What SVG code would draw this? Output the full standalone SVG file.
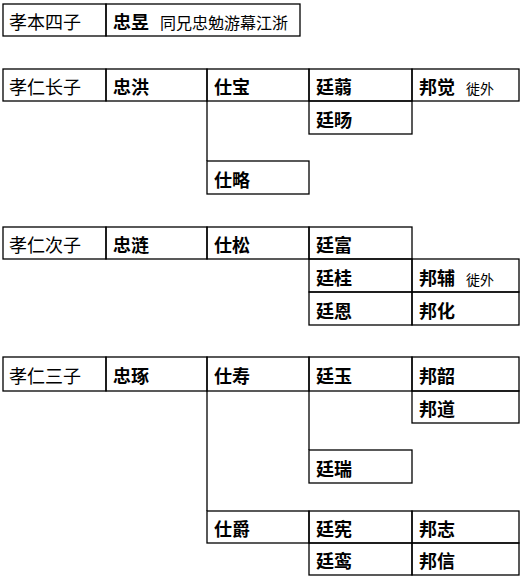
<svg xmlns="http://www.w3.org/2000/svg" width="522" height="580" viewBox="0 0 522 580">
<style>
rect{fill:none;stroke:#000;stroke-width:1.3}
line,path{fill:none;stroke:#000;stroke-width:1.3}
text{font-family:"Noto Sans CJK SC","Noto Sans CJK TC",sans-serif;font-size:18px;fill:#000}
.n{font-weight:700}
.r{font-weight:400}
.s{font-size:16px;font-weight:400}
.x{font-size:14px;font-weight:400}
</style>
<rect width="522" height="580" fill="#fff" stroke="none" style="fill:#fff;stroke:none"/>

<g id="connectors">
<line x1="207" y1="101" x2="207" y2="161"/>
<line x1="309" y1="391" x2="309" y2="450"/>
<line x1="207" y1="391" x2="207" y2="511"/>
</g>

<!-- Group 1 -->
<g id="n-xiaoben4"><rect x="3" y="4" width="103" height="32"/><text x="9" y="29" class="r">孝本四子</text></g>
<g id="n-zhongyu"><rect x="106" y="4" width="194" height="32"/><text x="113" y="29" class="n">忠昱</text><text x="160" y="29" class="s">同兄忠勉游幕江浙</text></g>

<!-- Group 2 -->
<g id="n-xiaoren1"><rect x="3" y="69" width="103" height="32"/><text x="9" y="94" class="r">孝仁长子</text></g>
<g id="n-zhonghong"><rect x="106" y="69" width="101" height="32"/><text x="113" y="94" class="n">忠洪</text></g>
<g id="n-shibao"><rect x="207" y="69" width="102" height="32"/><text x="214" y="94" class="n">仕宝</text></g>
<g id="n-tingruo"><rect x="309" y="69" width="103" height="32"/><text x="316" y="94" class="n">廷蒻</text></g>
<g id="n-bangjue"><rect x="412" y="69" width="107" height="32"/><text x="419" y="94" class="n">邦觉</text><text x="466" y="94" class="x">徙外</text></g>
<g id="n-tingyang"><rect x="309" y="101" width="103" height="33"/><text x="316" y="127" class="n">廷旸</text></g>
<g id="n-shilue"><rect x="207" y="161" width="102" height="33"/><text x="214" y="187" class="n">仕略</text></g>

<!-- Group 3 -->
<g id="n-xiaoren2"><rect x="3" y="227" width="103" height="32"/><text x="9" y="252" class="r">孝仁次子</text></g>
<g id="n-zhonglian"><rect x="106" y="227" width="101" height="32"/><text x="113" y="252" class="n">忠涟</text></g>
<g id="n-shisong"><rect x="207" y="227" width="102" height="32"/><text x="214" y="252" class="n">仕松</text></g>
<g id="n-tingfu"><rect x="309" y="227" width="103" height="32"/><text x="316" y="252" class="n">廷富</text></g>
<g id="n-tinggui"><rect x="309" y="259" width="103" height="33"/><text x="316" y="285" class="n">廷桂</text></g>
<g id="n-bangfu"><rect x="412" y="259" width="107" height="33"/><text x="419" y="285" class="n">邦辅</text><text x="466" y="285" class="x">徙外</text></g>
<g id="n-tingen"><rect x="309" y="292" width="103" height="33"/><text x="316" y="318" class="n">廷恩</text></g>
<g id="n-banghua"><rect x="412" y="292" width="107" height="33"/><text x="419" y="318" class="n">邦化</text></g>

<!-- Group 4 -->
<g id="n-xiaoren3"><rect x="3" y="357" width="103" height="34"/><text x="9" y="383" class="r">孝仁三子</text></g>
<g id="n-zhongzhuo"><rect x="106" y="357" width="101" height="34"/><text x="113" y="383" class="n">忠琢</text></g>
<g id="n-shishou"><rect x="207" y="357" width="102" height="34"/><text x="214" y="383" class="n">仕寿</text></g>
<g id="n-tingyu"><rect x="309" y="357" width="103" height="34"/><text x="316" y="383" class="n">廷玉</text></g>
<g id="n-bangshao"><rect x="412" y="357" width="107" height="34"/><text x="419" y="383" class="n">邦韶</text></g>
<g id="n-bangdao"><rect x="412" y="391" width="107" height="32"/><text x="419" y="416" class="n">邦道</text></g>
<g id="n-tingrui"><rect x="309" y="450" width="103" height="33"/><text x="316" y="476" class="n">廷瑞</text></g>
<g id="n-shijue"><rect x="207" y="511" width="102" height="32"/><text x="214" y="536" class="n">仕爵</text></g>
<g id="n-tingxian"><rect x="309" y="511" width="103" height="32"/><text x="316" y="536" class="n">廷宪</text></g>
<g id="n-bangzhi"><rect x="412" y="511" width="107" height="32"/><text x="419" y="536" class="n">邦志</text></g>
<g id="n-tingluan"><rect x="309" y="543" width="103" height="32"/><text x="316" y="568" class="n">廷鸾</text></g>
<g id="n-bangxin"><rect x="412" y="543" width="107" height="32"/><text x="419" y="568" class="n">邦信</text></g>
</svg>
